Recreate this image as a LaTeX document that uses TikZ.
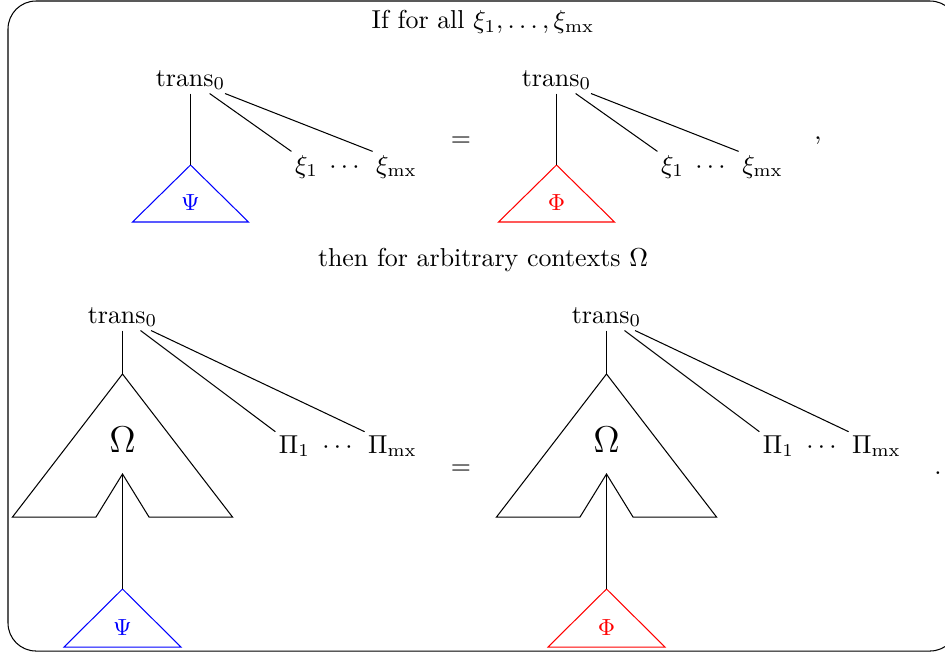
\documentclass[tikz,border=0pt]{standalone}
\begin{document}
\begin{tikzpicture}[x=0.1357cm,y=0.1357cm,
  every node/.style={inner sep=1.2pt},
  lbl/.style={anchor=base},
  sub/.style={font=\small}]
\useasboundingbox (0,0) rectangle (94.5,-65.3);
\draw[rounded corners=0.38cm] (0.8,-0.1) rectangle (95.8,-65.1);
\node (ifall) at (48.3,-2.2) {If for all $\xi_1,\ldots,\xi_{\mathrm{mx}}$};
\node (then) at (48.3,-26.0) {then for arbitrary contexts $\Omega$};
\node (eqA) at (46.1,-14.2) {$=$};
\node (comma) at (81.8,-14.1) {,};
\node (eqB) at (46.1,-47.0) {$=$};
\node (stop) at (93.8,-47.3) {.};
% top left
\begin{scope}[shift={(19.05,-8.6)}]
\node[lbl] (tA) at (0,0) {trans$_0$};
\coordinate (tA-top) at (0,-7.9);
\draw[blue] (tA-top) -- ++(-5.8,-5.7) -- ++(11.6,0) -- cycle;
\node[sub,blue] (psiA) at (0,-11.7) {$\Psi$};
\node[lbl] (tA-1) at (11.6,-8.7) {$\xi_1$};
\node[lbl] (tA-d) at (15.4,-8.7) {$\cdots$};
\node[lbl] (tA-m) at (20.6,-8.7) {$\xi_{\mathrm{mx}}$};
\draw (tA) -- (tA-top);
\draw (tA) -- (tA-1.north west);
\draw (tA) -- (tA-m.north west);
\end{scope}
% top right
\begin{scope}[shift={(55.65,-8.6)}]
\node[lbl] (tB) at (0,0) {trans$_0$};
\coordinate (tB-top) at (0,-7.9);
\draw[red] (tB-top) -- ++(-5.8,-5.7) -- ++(11.6,0) -- cycle;
\node[sub,red] (phiB) at (0,-11.7) {$\Phi$};
\node[lbl] (tB-1) at (11.6,-8.7) {$\xi_1$};
\node[lbl] (tB-d) at (15.4,-8.7) {$\cdots$};
\node[lbl] (tB-m) at (20.6,-8.7) {$\xi_{\mathrm{mx}}$};
\draw (tB) -- (tB-top);
\draw (tB) -- (tB-1.north west);
\draw (tB) -- (tB-m.north west);
\end{scope}
% bottom left
\begin{scope}[shift={(12.25,-32.3)}]
\node[lbl] (bA) at (0,0) {trans$_0$};
\coordinate (bA-top) at (0,-5.1);
\coordinate (bA-in) at (0,-15.1);
\draw (bA-top) -- (-11.0,-19.4) -- (-2.65,-19.4) -- (bA-in) -- (2.65,-19.4) -- (11.0,-19.4) -- cycle;
\node[font=\Large] (omA) at (0,-11.7) {$\Omega$};
\coordinate (bA-psi) at (0,-26.6);
\draw[blue] (bA-psi) -- ++(-5.85,-5.8) -- ++(11.7,0) -- cycle;
\node[sub,blue] (psiC) at (0,-30.5) {$\Psi$};
\node[lbl] (bA-1) at (17.2,-13.0) {$\Pi_1$};
\node[lbl] (bA-d) at (21.5,-13.0) {$\cdots$};
\node[lbl] (bA-m) at (27.0,-13.0) {$\Pi_{\mathrm{mx}}$};
\draw (bA) -- (bA-top);
\draw (bA-in) -- (bA-psi);
\draw (bA) -- (bA-1.north west);
\draw (bA) -- (bA-m.north west);
\end{scope}
% bottom right
\begin{scope}[shift={(60.65,-32.3)}]
\node[lbl] (bB) at (0,0) {trans$_0$};
\coordinate (bB-top) at (0,-5.1);
\coordinate (bB-in) at (0,-15.1);
\draw (bB-top) -- (-11.0,-19.4) -- (-2.65,-19.4) -- (bB-in) -- (2.65,-19.4) -- (11.0,-19.4) -- cycle;
\node[font=\Large] (omB) at (0,-11.7) {$\Omega$};
\coordinate (bB-phi) at (0,-26.6);
\draw[red] (bB-phi) -- ++(-5.85,-5.8) -- ++(11.7,0) -- cycle;
\node[sub,red] (phiD) at (0,-30.5) {$\Phi$};
\node[lbl] (bB-1) at (17.2,-13.0) {$\Pi_1$};
\node[lbl] (bB-d) at (21.5,-13.0) {$\cdots$};
\node[lbl] (bB-m) at (27.0,-13.0) {$\Pi_{\mathrm{mx}}$};
\draw (bB) -- (bB-top);
\draw (bB-in) -- (bB-phi);
\draw (bB) -- (bB-1.north west);
\draw (bB) -- (bB-m.north west);
\end{scope}
\end{tikzpicture}
\end{document}
